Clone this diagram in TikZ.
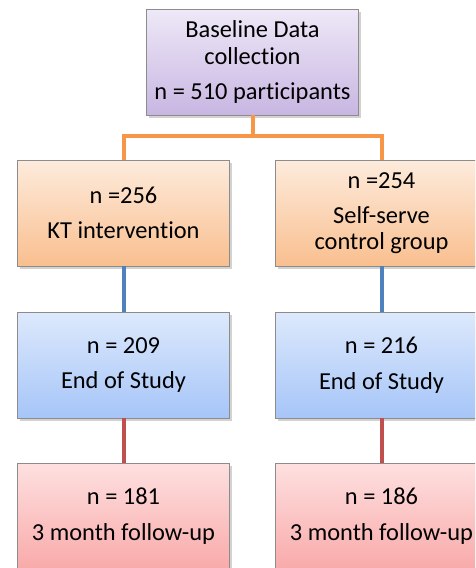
\documentclass[tikz,border=0pt]{standalone}
\usepackage{fontspec}
\setmainfont[Ligatures=NoCommon]{Carlito}
\usetikzlibrary{shadows}
\begin{document}
\begin{tikzpicture}[x=1pt,y=-1pt,
  box/.style={draw=black!45, line width=0.8pt, minimum width=212pt, minimum height=106pt,
    align=center, inner sep=0pt, font=\fontsize{24.4}{25.5}\selectfont,
    drop shadow={opacity=0.35, shadow xshift=2pt, shadow yshift=-2.5pt}},
  purplebox/.style={box, top color=purpleTop, bottom color=purpleBot},
  orangebox/.style={box, top color=orangeTop, bottom color=orangeBot},
  bluebox/.style={box, top color=blueTop, bottom color=blueBot},
  redbox/.style={box, top color=redTop, bottom color=redBot},
  conn/.style={line width=4pt}]
\definecolor{purpleTop}{HTML}{EEE8F7}
\definecolor{purpleBot}{HTML}{C8B6E2}
\definecolor{orangeTop}{HTML}{FDEBDC}
\definecolor{orangeBot}{HTML}{F9BF8F}
\definecolor{blueTop}{HTML}{DDE9FC}
\definecolor{blueBot}{HTML}{A6C5F8}
\definecolor{redTop}{HTML}{FEE0E0}
\definecolor{redBot}{HTML}{F9AAAA}
\definecolor{oline}{HTML}{F79646}
\definecolor{bline}{HTML}{4F81BD}
\definecolor{rline}{HTML}{C0504D}
\clip (0,0) rectangle (475,568);
\fill[white] (0,0) rectangle (475,568);
\node[purplebox] (top) at (252.5,62) {Baseline Data\\[1pt]collection\\[10pt]n = 510 participants};
\node[orangebox] (a1) at (123.5,213) {n =256\\[10pt]KT intervention};
\node[orangebox] (b1) at (381.5,213) {n =254\\[10pt]Self-serve\\control group};
\node[bluebox] (a2) at (123.5,365) {n = 209\\[10pt]End of Study};
\node[bluebox] (b2) at (381.5,365) {n = 216\\[10pt]End of Study};
\node[redbox] (a3) at (123.5,516) {n = 181\\[10pt]3 month follow-up};
\node[redbox] (b3) at (381.5,516) {n = 186\\[10pt]3 month follow-up};
\coordinate (j) at (252.5,136);
\draw[conn, oline] (top.south) -- (j);
\draw[conn, oline] (j) -| (a1.north);
\draw[conn, oline] (j) -| (b1.north);
\draw[conn, bline] (a1.south) -- (a2.north);
\draw[conn, bline] (b1.south) -- (b2.north);
\draw[conn, rline] (a2.south) -- (a3.north);
\draw[conn, rline] (b2.south) -- (b3.north);
\end{tikzpicture}
\end{document}
